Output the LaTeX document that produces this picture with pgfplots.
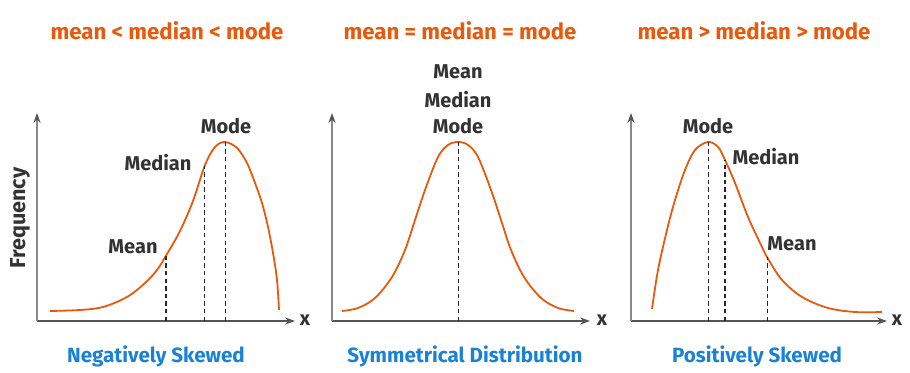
\documentclass[border=0pt]{standalone}
\usepackage{fontspec}
\setmainfont{Fira Sans}
\usepackage{pgfplots}
\pgfplotsset{compat=1.18}
\usetikzlibrary{arrows.meta}
\definecolor{curve}{HTML}{E8590C}
\definecolor{ttl}{HTML}{E8590C}
\definecolor{blu}{HTML}{1A82D6}
\definecolor{lbl}{HTML}{333333}
\definecolor{ax}{HTML}{888888}
\definecolor{axd}{HTML}{555555}
\pgfplotsset{
  panel/.style={
    scale only axis, clip=false,
    axis lines=left,
    xtick=\empty, ytick=\empty,
    ymin=52, ymax=260,
    height=104pt,
    anchor=south west,
    y axis line style={ax, line width=0.8pt, -{Stealth[length=5pt,width=3.6pt,color=axd]}},
    x axis line style={axd, line width=0.8pt, -{Stealth[length=5pt,width=3.6pt,color=axd]}},
  },
  cv/.style={curve, line width=0.9pt, smooth, tension=0.55, no marks},
  dl/.style={black!85, line width=0.5pt, dash pattern=on 2.2pt off 1.6pt, no marks},
  dlb/.style={black!85, line width=1pt, dash pattern=on 2.2pt off 1.6pt, no marks},
}
\begin{document}
\begin{tikzpicture}[x=0.5pt,y=0.5pt]
% ---- Panel 1
\begin{axis}[panel, at={(37,52)}, xmin=37, xmax=295, width=129pt]
\addplot[cv] coordinates {(50,62) (80,63) (103,66) (127,76) (145,90) (157,103) (167,119) (180,142) (193,172) (205,208) (215,226) (225,231) (237,225) (247,210) (255,190) (262,170) (268,146) (273,120) (277,93) (279,63)};
\addplot[dlb] coordinates {(166,52) (166,118)};
\addplot[dl] coordinates {(204,52) (204,207)};
\addplot[dl] coordinates {(225,52) (225,231)};
\end{axis}
% ---- Panel 2
\begin{axis}[panel, at={(332,52)}, xmin=332, xmax=590, width=129pt]
\addplot[cv] coordinates {(342,62) (358,65) (375,75) (392,96) (405,123) (415,153) (425,183) (438,216) (448,228) (458,231) (468,228) (478,216) (491,183) (501,153) (511,123) (524,96) (541,75) (558,65) (574,62)};
\addplot[dl] coordinates {(458,52) (458,231)};
\end{axis}
% ---- Panel 3
\begin{axis}[panel, at={(631,52)}, xmin=631, xmax=887, width=128pt]
\addplot[cv] coordinates {(652,64) (658,103) (667,143) (675,173) (685,203) (695,223) (708,231) (718,226) (725,213) (735,190) (748,156) (762,126) (767,116) (782,93) (802,76) (828,65) (855,61) (882,61)};
\addplot[dl] coordinates {(708,52) (708,231)};
\addplot[dlb] coordinates {(725,52) (725,213)};
\addplot[dl] coordinates {(767,52) (767,116)};
\end{axis}
% ---- Texts
\tikzset{lab/.style={text=lbl, font=\fontsize{10}{11}\selectfont\bfseries, inner sep=0pt},
         ttlst/.style={text=ttl, font=\fontsize{11.1}{13}\selectfont\bfseries, inner sep=0pt},
         bst/.style={text=blu, font=\fontsize{10.3}{12}\selectfont\bfseries, inner sep=0pt}}
\node[ttlst] at (167,342) {mean < median < mode};
\node[ttlst] at (460,342) {mean = median = mode};
\node[ttlst] at (754,342) {mean > median > mode};
\node[bst] at (156,17) {Negatively Skewed};
\node[bst] at (465,17) {Symmetrical Distribution};
\node[bst] at (757,17) {Positively Skewed};
\node[lab, rotate=90, font=\fontsize{10.8}{12}\selectfont\bfseries] at (20,155) {Frequency};
\node[lab] at (226,247) {Mode};
\node[lab] at (158,210) {Median};
\node[lab] at (133,126) {Mean};
\node[lab] at (458,301) {Mean};
\node[lab] at (458,273) {Median};
\node[lab] at (458,247) {Mode};
\node[lab] at (708,247) {Mode};
\node[lab] at (766,216) {Median};
\node[lab] at (792,129) {Mean};
\node[lab] at (305,53) {x};
\node[lab] at (602,53) {x};
\node[lab] at (897,53) {x};
\pgfresetboundingbox
\path[use as bounding box] (0,0) rectangle (910,373);
\end{tikzpicture}
\end{document}
